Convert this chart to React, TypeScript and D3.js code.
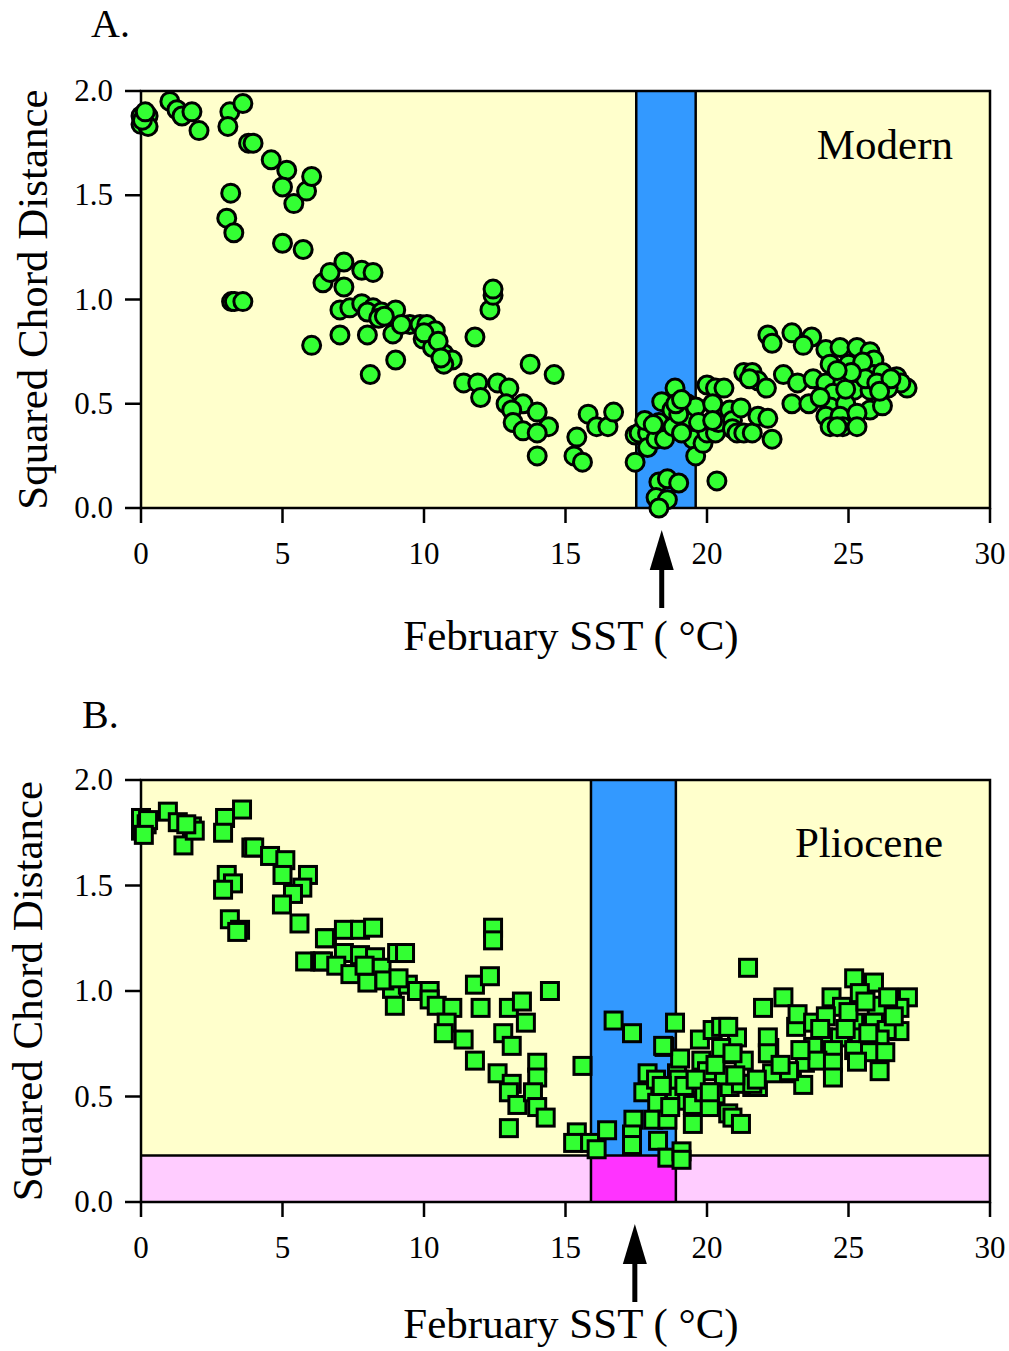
import React from "react";
import * as d3 from "d3";

// Modern: [February SST (°C), squared chord distance]
const modernPoints: [number, number][] = [
  [0.0, 1.88], [0.25, 1.88], [0.0, 1.84], [0.25, 1.83], [0.05, 1.86], [0.15, 1.9],
  [1.02, 1.95], [1.27, 1.91], [1.45, 1.88], [1.8, 1.9], [2.05, 1.81],
  [3.14, 1.9], [3.6, 1.94], [3.07, 1.83], [3.8, 1.75], [3.96, 1.75], [4.6, 1.67],
  [5.15, 1.62], [5.0, 1.54], [5.4, 1.46], [5.85, 1.52], [6.03, 1.59],
  [3.17, 1.51], [3.03, 1.39], [3.28, 1.32], [5.0, 1.27], [5.73, 1.24],
  [3.2, 0.99], [3.3, 0.99], [3.6, 0.99], [6.03, 0.78],
  [6.43, 1.08], [6.68, 1.13], [7.17, 1.18], [7.8, 1.14], [8.2, 1.13], [7.17, 1.06],
  [7.03, 0.95], [7.38, 0.96], [7.8, 0.98], [8.2, 0.96], [8.0, 0.94], [8.5, 0.94],
  [9.0, 0.95], [8.4, 0.91], [7.03, 0.83], [8.0, 0.83], [8.9, 0.835], [8.1, 0.64],
  [9.0, 0.71], [9.5, 0.88], [9.86, 0.88], [10.1, 0.88], [10.4, 0.85], [9.97, 0.81],
  [10.3, 0.77], [10.7, 0.74], [11.0, 0.71], [10.7, 0.69], [11.4, 0.6], [11.9, 0.6],
  [12.0, 0.53], [11.8, 0.82], [12.33, 0.95], [12.44, 1.02], [12.44, 1.05],
  [12.6, 0.6], [13.0, 0.575], [12.9, 0.5], [13.5, 0.5], [13.1, 0.47], [13.15, 0.41],
  [13.5, 0.37], [14.0, 0.46], [14.4, 0.39], [14.0, 0.36], [14.0, 0.25], [13.75, 0.69],
  [14.6, 0.64], [15.4, 0.34], [15.3, 0.25], [15.6, 0.22], [15.8, 0.45], [16.1, 0.39],
  [16.5, 0.39], [16.7, 0.46], [8.6, 0.92], [9.2, 0.88], [10.0, 0.84], [10.5, 0.8],
  [10.6, 0.72],
  [17.46, 0.22], [17.46, 0.35], [17.6, 0.36], [17.9, 0.36], [18.3, 0.41], [17.9, 0.29],
  [18.2, 0.33], [18.5, 0.33], [18.4, 0.51], [18.87, 0.575], [18.76, 0.47], [18.8, 0.39],
  [19.3, 0.43], [19.3, 0.5], [19.6, 0.485], [19.5, 0.33], [19.6, 0.25], [19.86, 0.31],
  [20.0, 0.59], [20.3, 0.575], [20.6, 0.575], [20.2, 0.5], [20.0, 0.36], [20.3, 0.36],
  [20.35, 0.13], [18.3, 0.125], [18.6, 0.14], [19.0, 0.12], [18.2, 0.05], [18.6, 0.04],
  [18.3, 0.0], [17.8, 0.42], [18.1, 0.4], [19.0, 0.45], [19.1, 0.36], [19.7, 0.41],
  [20.4, 0.41], [18.9, 0.5], [19.1, 0.52], [20.2, 0.42], [20.8, 0.47], [20.9, 0.42],
  [20.9, 0.38], [21.2, 0.48], [21.06, 0.36], [21.3, 0.36], [21.6, 0.36], [21.8, 0.44],
  [22.15, 0.43], [22.3, 0.33], [21.3, 0.65], [21.6, 0.65], [21.8, 0.61], [22.1, 0.575],
  [21.5, 0.62], [22.15, 0.83], [22.3, 0.79], [23.0, 0.84], [23.7, 0.82], [23.4, 0.78],
  [22.7, 0.64], [23.2, 0.6], [23.0, 0.5], [23.6, 0.5], [23.75, 0.62],
  [24.2, 0.76], [24.7, 0.77], [25.3, 0.77], [25.76, 0.75], [25.9, 0.71], [24.35, 0.69],
  [25.0, 0.69], [24.2, 0.6], [24.8, 0.6], [25.4, 0.61], [25.9, 0.64], [26.2, 0.65],
  [26.7, 0.63], [27.07, 0.575], [26.85, 0.6], [26.4, 0.575], [24.45, 0.55], [25.2, 0.565],
  [25.76, 0.565], [24.35, 0.485], [24.9, 0.5], [25.76, 0.47], [26.2, 0.49], [24.2, 0.44],
  [24.7, 0.44], [25.3, 0.455], [24.35, 0.39], [24.8, 0.39], [25.3, 0.39], [24.6, 0.39],
  [24.9, 0.57], [25.5, 0.7], [25.6, 0.62], [26.0, 0.6], [25.1, 0.65], [24.6, 0.66],
  [26.5, 0.62], [26.1, 0.56], [24.0, 0.53],
];

// Pliocene: [February SST (°C), squared chord distance]
const pliocenePoints: [number, number][] = [
  [0.0, 1.76], [0.0, 1.82], [0.2, 1.79], [0.25, 1.81], [0.1, 1.74],
  [0.95, 1.85], [1.3, 1.8], [1.5, 1.69], [1.8, 1.78], [1.9, 1.76], [1.6, 1.79],
  [2.97, 1.82], [3.57, 1.86], [2.9, 1.75], [3.9, 1.68], [4.0, 1.68], [4.56, 1.64],
  [5.1, 1.62], [5.0, 1.55], [5.9, 1.55], [5.7, 1.49], [5.37, 1.46], [4.98, 1.41],
  [5.6, 1.32], [3.03, 1.55], [3.25, 1.51], [2.9, 1.48], [3.14, 1.34], [3.5, 1.29],
  [3.4, 1.28], [6.57, 1.25], [5.8, 1.14], [6.33, 1.14], [6.5, 1.25], [6.43, 1.14],
  [7.17, 1.29], [7.74, 1.29], [8.2, 1.3], [7.17, 1.18], [7.74, 1.17], [8.27, 1.16],
  [6.9, 1.12], [7.4, 1.08], [8.1, 1.07], [8.5, 1.11], [8.0, 1.04], [9.05, 1.18],
  [9.33, 1.18], [8.87, 1.01], [8.97, 0.93], [9.43, 1.03], [9.75, 1.0], [10.2, 1.0],
  [10.2, 0.96], [10.45, 0.93], [11.0, 0.92], [10.8, 0.85], [10.7, 0.8], [11.4, 0.77],
  [11.8, 0.67], [11.8, 1.03], [12.33, 1.07], [12.0, 0.92], [12.44, 1.3], [12.44, 1.24],
  [12.6, 0.61], [13.1, 0.56], [13.0, 0.52], [13.3, 0.46], [13.0, 0.35], [12.8, 0.8],
  [13.1, 0.74], [13.0, 0.92], [13.46, 0.95], [13.6, 0.85], [14.0, 0.66], [14.0, 0.59],
  [13.85, 0.52], [14.0, 0.45], [14.3, 0.4], [14.45, 1.0], [15.6, 0.645], [15.4, 0.33],
  [15.27, 0.28], [15.87, 0.28], [16.1, 0.25], [16.47, 0.34], [16.7, 0.86], [17.35, 0.8],
  [8.6, 1.05], [9.1, 1.06], [7.9, 1.12],
  [17.4, 0.39], [17.35, 0.32], [17.35, 0.27], [18.27, 0.29], [18.6, 0.21], [19.1, 0.24],
  [19.1, 0.2], [17.9, 0.61], [17.75, 0.52], [18.2, 0.58], [18.24, 0.47], [18.1, 0.39],
  [18.6, 0.39], [18.5, 0.735], [18.87, 0.85], [18.94, 0.61], [19.05, 0.68], [18.87, 0.5],
  [19.3, 0.48], [19.5, 0.37], [19.5, 0.46], [19.75, 0.77], [19.8, 0.67], [20.0, 0.62],
  [20.2, 0.815], [20.5, 0.83], [21.06, 0.78], [20.9, 0.7], [20.3, 0.51], [20.75, 0.42],
  [20.9, 0.4], [21.2, 0.37], [20.8, 0.545], [21.3, 0.67], [21.6, 0.545], [21.8, 0.545],
  [22.3, 0.61], [22.2, 0.73], [22.15, 0.78], [21.98, 0.92], [22.7, 0.97], [21.45, 1.11],
  [23.0, 0.61], [23.15, 0.83], [21.2, 0.56], [21.6, 0.56],
  [18.45, 0.74], [19.0, 0.58], [18.4, 0.55], [18.7, 0.45], [19.2, 0.55], [19.9, 0.52],
  [20.1, 0.45], [20.6, 0.6], [20.5, 0.73], [21.0, 0.6], [19.6, 0.58], [20.3, 0.65],
  [23.2, 0.89], [23.75, 0.85], [24.4, 0.97], [25.2, 1.06], [25.9, 1.04], [27.1, 0.97],
  [26.8, 0.92], [26.8, 0.81], [24.77, 0.925], [25.4, 0.99], [26.0, 0.93], [26.4, 0.97],
  [24.2, 0.88], [25.2, 0.85], [25.9, 0.85], [26.35, 0.815], [24.1, 0.78], [24.7, 0.78],
  [25.4, 0.78], [26.1, 0.77], [23.75, 0.735], [24.45, 0.72], [25.2, 0.72], [25.76, 0.71],
  [26.3, 0.71], [23.46, 0.66], [23.9, 0.67], [24.45, 0.66], [25.3, 0.665], [26.1, 0.62],
  [24.45, 0.59], [23.4, 0.555], [22.9, 0.62], [22.15, 0.705], [21.76, 0.58], [20.9, 0.705],
  [20.75, 0.83], [20.1, 0.52], [25.0, 0.9], [25.6, 0.95], [24.9, 0.82], [25.7, 0.8],
  [26.6, 0.88], [24.0, 0.82], [22.6, 0.65], [23.3, 0.72],
];

const xTicks = [0, 5, 10, 15, 20, 25, 30];
const yTicks = [0, 0.5, 1.0, 1.5, 2.0];
const modernBand = [17.5, 19.6];
const plioceneBand = [15.9, 18.9];
const plioceneThreshold = 0.22;
const modernArrowSST = 18.4;
const plioceneArrowSST = 17.45;

const FONT = "'Liberation Serif', 'Times New Roman', serif";
const BG = "#ffffcc";
const BLUE = "#3399ff";
const PINK = "#ffccff";
const MAGENTA = "#ff33ff";
const GREEN = "#33ff33";

type PanelProps = {
  top: number;
  bottom: number;
  points: [number, number][];
  band: number[];
  threshold: number | null;
  arrowSST: number;
  letter: string;
  name: string;
  square: boolean;
  nameY: number;
  nameRight: number;
  letterX: number;
  letterY: number;
  yLabelX: number;
  titleY: number;
};

function Panel(p: PanelProps) {
  const x = d3.scaleLinear().domain([0, 30]).range([141, 990]);
  const y = d3.scaleLinear().domain([0, 2]).range([p.bottom, p.top]);
  const bx0 = x(p.band[0]);
  const bx1 = x(p.band[1]);
  const thrY = p.threshold != null ? y(p.threshold) : p.bottom;
  const ax = x(p.arrowSST);
  const arrowTip = p.bottom + 22;
  const arrowBase = arrowTip + 40;
  const arrowEnd = arrowTip + 78;
  return (
    <g>
      <rect x={x(0)} y={y(2)} width={x(30) - x(0)} height={y(0) - y(2)} fill={BG} />
      {p.threshold != null && (
        <rect x={x(0)} y={thrY} width={x(30) - x(0)} height={y(0) - thrY} fill={PINK} />
      )}
      <rect x={bx0} y={y(2)} width={bx1 - bx0} height={thrY - y(2)} fill={BLUE} />
      {p.threshold != null && (
        <rect x={bx0} y={thrY} width={bx1 - bx0} height={y(0) - thrY} fill={MAGENTA} />
      )}
      <line x1={bx0} x2={bx0} y1={y(2)} y2={y(0)} stroke="#000" strokeWidth={2.5} />
      <line x1={bx1} x2={bx1} y1={y(2)} y2={y(0)} stroke="#000" strokeWidth={2.5} />
      {p.threshold != null && (
        <line x1={x(0)} x2={x(30)} y1={thrY} y2={thrY} stroke="#000" strokeWidth={2.5} />
      )}
      <rect x={x(0)} y={y(2)} width={x(30) - x(0)} height={y(0) - y(2)} fill="none" stroke="#000" strokeWidth={2.5} />
      {xTicks.map((t) => (
        <g key={"x" + t}>
          <line x1={x(t)} x2={x(t)} y1={y(0)} y2={y(0) + 15} stroke="#000" strokeWidth={2.5} />
          <text x={x(t)} y={y(0) + 56} textAnchor="middle" fontFamily={FONT} fontSize={31}>
            {t}
          </text>
        </g>
      ))}
      {yTicks.map((t) => (
        <g key={"y" + t}>
          <line x1={x(0) - 16} x2={x(0)} y1={y(t)} y2={y(t)} stroke="#000" strokeWidth={2.5} />
          <text x={113} y={y(t) + 10} textAnchor="end" fontFamily={FONT} fontSize={31}>
            {t.toFixed(1)}
          </text>
        </g>
      ))}
      {p.points.map(([sx, sy], i) =>
        p.square ? (
          <rect
            key={i}
            x={x(sx) - 8.5}
            y={y(sy) - 8.5}
            width={17}
            height={17}
            fill={GREEN}
            stroke="#000"
            strokeWidth={3}
          />
        ) : (
          <circle key={i} cx={x(sx)} cy={y(sy)} r={9} fill={GREEN} stroke="#000" strokeWidth={3} />
        )
      )}
      <text x={p.nameRight} y={p.nameY} textAnchor="end" fontFamily={FONT} fontSize={43}>
        {p.name}
      </text>
      <text x={p.letterX} y={p.letterY} fontFamily={FONT} fontSize={40}>
        {p.letter}
      </text>
      <text
        transform={`translate(${p.yLabelX},${(y(0) + y(2)) / 2}) rotate(-90)`}
        textAnchor="middle"
        fontFamily={FONT}
        fontSize={43}
      >
        Squared Chord Distance
      </text>
      <text x={571} y={p.titleY} textAnchor="middle" fontFamily={FONT} fontSize={43}>
        February SST ( °C)
      </text>
      <path
        d={`M${ax},${arrowTip} L${ax + 12},${arrowBase} L${ax - 12},${arrowBase} Z`}
        fill="#000"
      />
      <line x1={ax} x2={ax} y1={arrowBase - 2} y2={arrowEnd} stroke="#000" strokeWidth={5} />
    </g>
  );
}

export default function App() {
  return (
    <svg
      width={1009}
      height={1351}
      style={{ position: "absolute", left: 0, top: 0, background: "#fff" }}
    >
      <rect x={0} y={0} width={1009} height={1351} fill="#fff" />
      <Panel
        top={91}
        bottom={508}
        points={modernPoints}
        band={modernBand}
        threshold={null}
        arrowSST={modernArrowSST}
        letter="A."
        name="Modern"
        square={false}
        nameY={159}
        nameRight={953}
        letterX={91}
        letterY={37}
        yLabelX={47}
        titleY={650}
      />
      <Panel
        top={780}
        bottom={1202}
        points={pliocenePoints}
        band={plioceneBand}
        threshold={plioceneThreshold}
        arrowSST={plioceneArrowSST}
        letter="B."
        name="Pliocene"
        square={true}
        nameY={857}
        nameRight={943}
        letterX={82}
        letterY={728}
        yLabelX={42}
        titleY={1338}
      />
    </svg>
  );
}
